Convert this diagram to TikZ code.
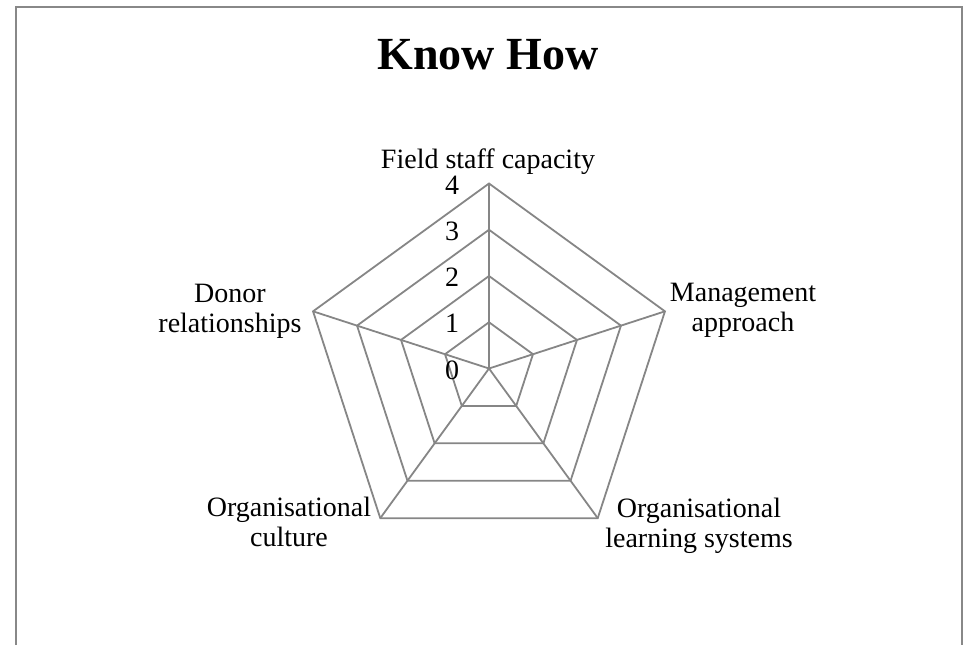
\documentclass[tikz,border=0pt]{standalone}
\usepackage{fontspec}
\setmainfont{Liberation Serif}
\usetikzlibrary{calc}
\definecolor{framegray}{HTML}{888888}
\definecolor{gridgray}{HTML}{868686}
\begin{document}
\begin{tikzpicture}[x=1pt,y=-1pt,
  frame/.style={draw=framegray,line width=2pt},
  gridline/.style={draw=gridgray,line width=1.8pt,line join=miter},
  lab/.style={font=\fontsize{28}{30}\selectfont,align=center,inner sep=0pt},
  ticklab/.style={font=\fontsize{28}{30}\selectfont,inner sep=0pt},
  titlelab/.style={font=\fontsize{46}{50}\selectfont\bfseries,inner sep=0pt}]
\useasboundingbox (0,0) rectangle (963,645);
\draw[frame] (15.5,645) -- (15.5,6.5) -- (961.5,6.5) -- (961.5,645);
\coordinate (c) at (489,368.5);
% rings
\foreach \k in {1,2,3,4}{
  \draw[gridline] ($(c)+(-90:46.25*\k)$) -- ($(c)+(-18:46.25*\k)$) -- ($(c)+(54:46.25*\k)$) -- ($(c)+(126:46.25*\k)$) -- ($(c)+(198:46.25*\k)$) -- cycle;
}
% axes
\foreach \a/\n in {-90/a,-18/b,54/d,126/e,198/f}{
  \coordinate (v\n) at ($(c)+(\a:185)$);
  \draw[gridline] (c) -- (v\n);
}
% title
\node[titlelab,anchor=base] (title) at (488,69) {Know How};
% category labels
\node[lab,anchor=base] (field) at (488,168) {Field staff capacity};
\node[lab] (mgmt) at (743,310.6) {Management\\approach};
\node[lab] (learn) at (699,525.4) {Organisational\\learning systems};
\node[lab] (cult) at (289,522.4) {Organisational\\culture};
\node[lab] (donor) at (230,311) {Donor\\relationships};
% tick labels
\foreach \k in {0,1,2,3,4}{
  \node[ticklab] (t\k) at (452,{370-46.25*\k}) {\k};
}
\end{tikzpicture}
\end{document}
